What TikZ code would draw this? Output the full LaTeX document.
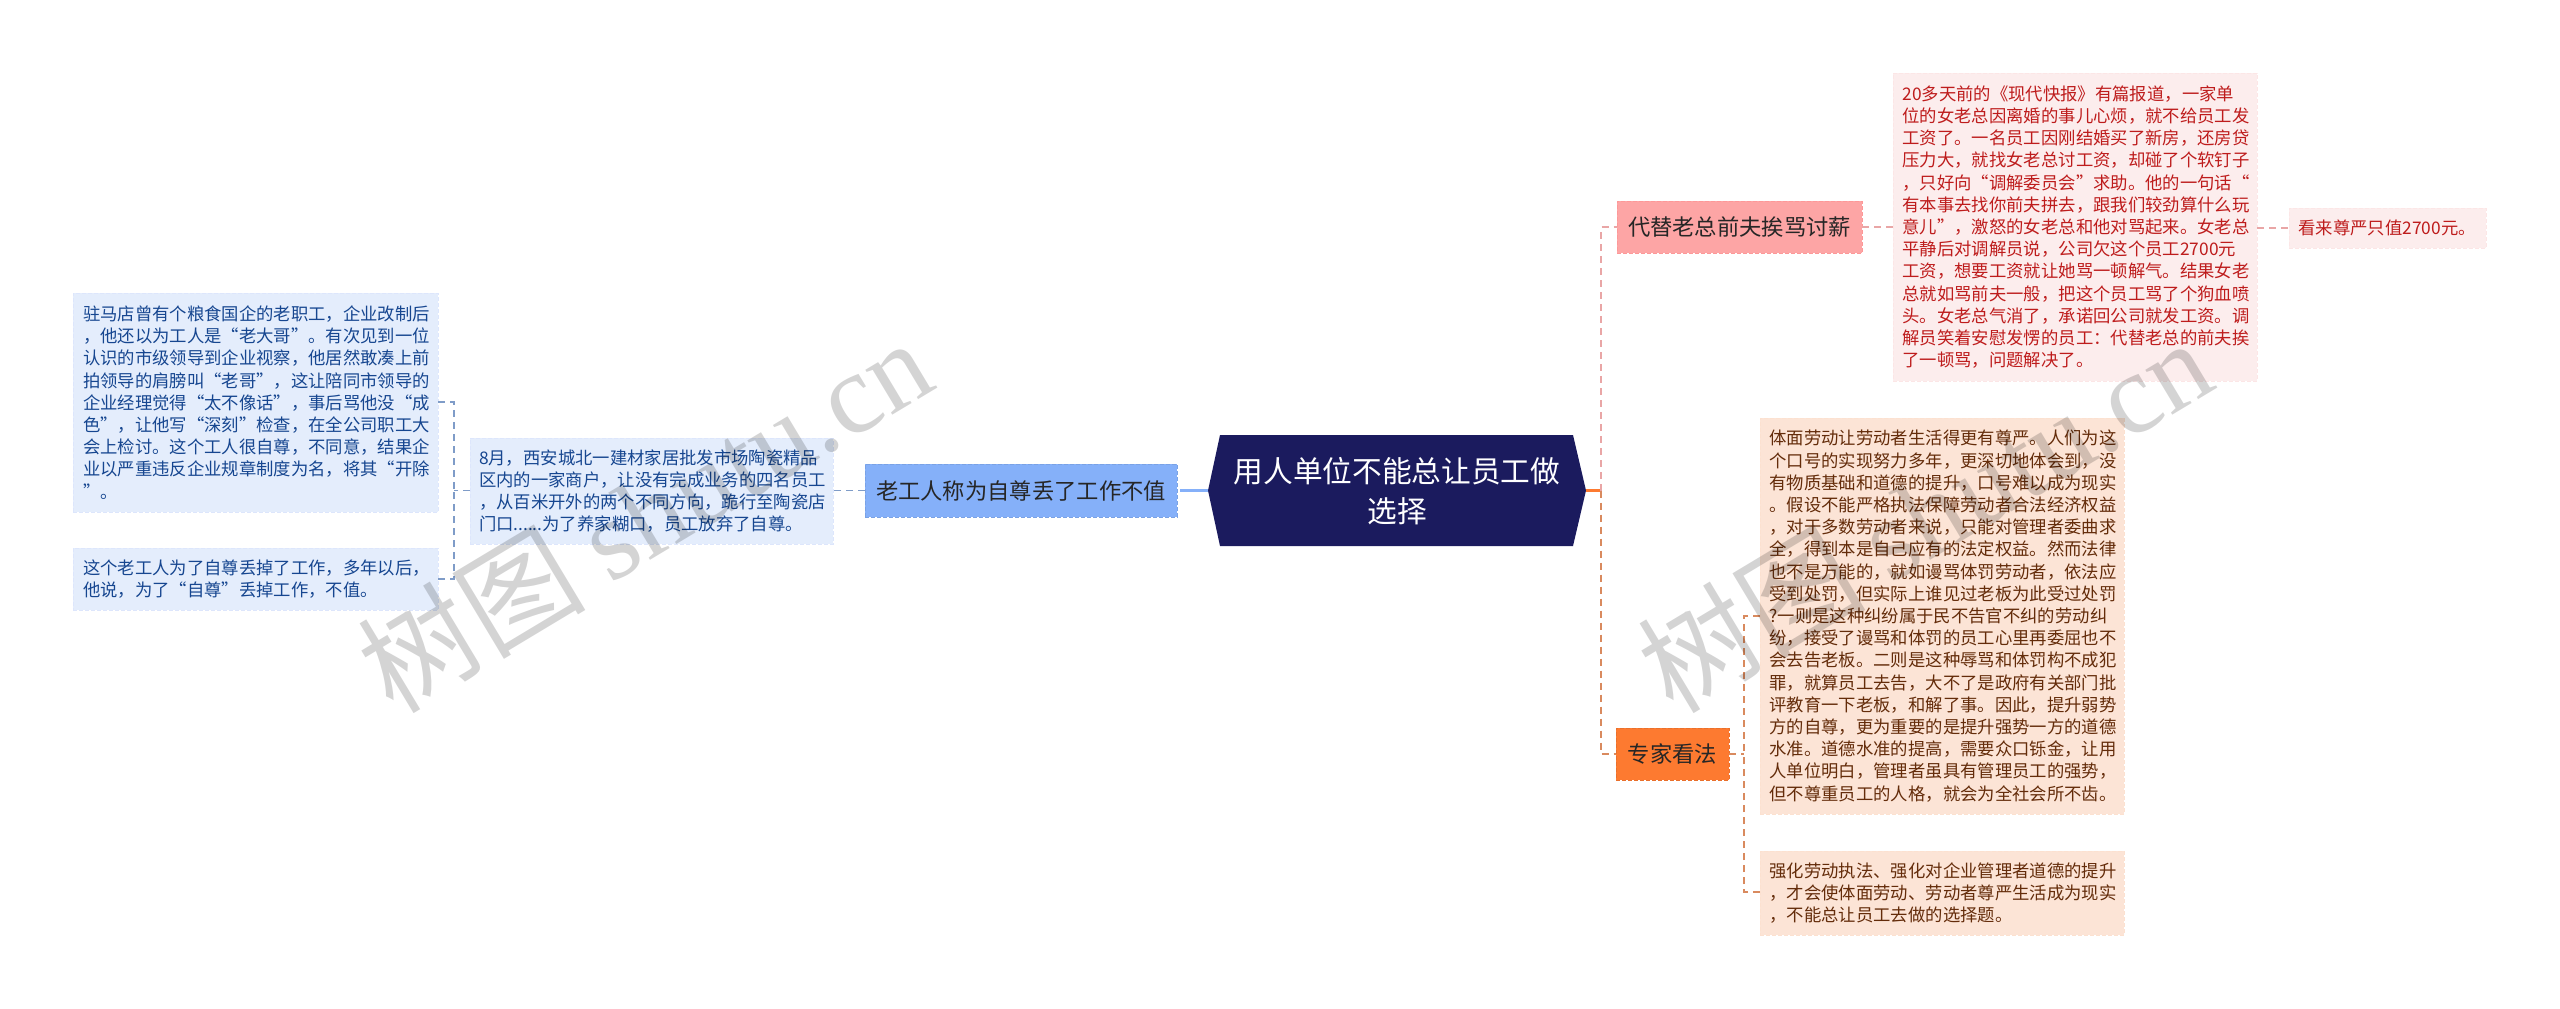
\documentclass[tikz,border=0pt]{standalone}
\usepackage{fontspec}
\setmainfont{Noto Sans CJK SC}
\newfontfamily\wmlatin{Liberation Serif}
\usetikzlibrary{calc}
\definecolor{navy}{HTML}{1B1B5E}
\definecolor{bluemain}{HTML}{85B0F9}
\definecolor{bluelight}{HTML}{E4EDFC}
\definecolor{bluetext}{HTML}{164690}
\definecolor{blueline}{HTML}{7F9CC8}
\definecolor{redmain}{HTML}{FDA5A5}
\definecolor{redlight}{HTML}{FCEDED}
\definecolor{redtext}{HTML}{BE1C1C}
\definecolor{redline}{HTML}{E9A6A6}
\definecolor{orangemain}{HTML}{FD7A30}
\definecolor{orangelight}{HTML}{FCE4D6}
\definecolor{orangetext}{HTML}{642C0A}
\definecolor{orangeline}{HTML}{D98A5E}
\tikzset{
 boxbase/.style={rectangle,inner sep=0pt,outer sep=0pt,line width=0.8pt,dash pattern=on 4pt off 2pt,align=left,anchor=north west},
 leaf/.style={boxbase,font=\fontsize{17.35pt}{22.2pt}\selectfont},
 topic/.style={boxbase,font=\fontsize{22.3pt}{30pt}\selectfont,text=black!85,anchor=center,align=center},
 bleaf/.style={leaf,fill=bluelight,draw=bluelight!97!blue,text=bluetext},
 rleaf/.style={leaf,fill=redlight,draw=redlight!97!red,text=redtext},
 oleaf/.style={leaf,fill=orangelight,draw=orangelight!97!orange,text=orangetext},
 conn/.style={line width=1.3pt,dash pattern=on 7pt off 5pt},
 trunk/.style={line width=2.6pt,dash pattern=on 7pt off 5pt},
 wm/.style={rotate=31,text=black,opacity=0.17,anchor=center,inner sep=0pt}
}
\begin{document}
\begin{tikzpicture}[x=1pt,y=-1pt]
\useasboundingbox (0,0) rectangle (2560,1009);
\coordinate (jl) at (454,490.5);
\coordinate (jr) at (1601,490.5);
\coordinate (jo) at (1744,754);
\coordinate (rootL) at (1208,490.5);
\coordinate (rootR) at (1586,490.5);
\coordinate (stub) at (1187,490.5);
% centre
\path[fill=navy] (rootL) -- (1220,435) -- (1573,435) -- (rootR) -- (1573,546) -- (1220,546) -- cycle;
\node[text=white,font=\fontsize{29.7pt}{40pt}\selectfont,align=center,inner sep=0pt] (root) at (1397,491) {用人单位不能总让员工做\\选择};
% level 1
\node[topic,fill=bluemain,draw=bluemain!92!black,minimum width=312pt,minimum height=53pt] (old) at (1021,490.5) {老工人称为自尊丢了工作不值};
\node[topic,fill=redmain,draw=redmain!92!red,minimum width=245pt,minimum height=52pt] (wife) at (1739.5,227) {代替老总前夫挨骂讨薪};
\node[topic,fill=orangemain,draw=orangemain!92!black,minimum width=113pt,minimum height=52pt] (exp) at (1672.5,754) {专家看法};
% leaves
\node[bleaf,minimum width=365pt,minimum height=219pt,text width=345pt] (a) at (73,293) {驻马店曾有个粮食国企的老职工，企业改制后\\，他还以为工人是“老大哥”。有次见到一位\\认识的市级领导到企业视察，他居然敢凑上前\\拍领导的肩膀叫“老哥”，这让陪同市领导的\\企业经理觉得“太不像话”，事后骂他没“成\\色”，让他写“深刻”检查，在全公司职工大\\会上检讨。这个工人很自尊，不同意，结果企\\业以严重违反企业规章制度为名，将其“开除\\”。};
\node[bleaf,minimum width=365pt,minimum height=62pt,text width=345pt] (b) at (73,548) {这个老工人为了自尊丢掉了工作，多年以后，\\他说，为了“自尊”丢掉工作，不值。};
\node[bleaf,minimum width=363pt,minimum height=106pt,text width=345pt] (c) at (470,438) {8月，西安城北一建材家居批发市场陶瓷精品\\区内的一家商户，让没有完成业务的四名员工\\，从百米开外的两个不同方向，跪行至陶瓷店\\门口......为了养家糊口，员工放弃了自尊。};
\node[rleaf,minimum width=364pt,minimum height=308pt,text width=345pt] (f) at (1893,73) {20多天前的《现代快报》有篇报道，一家单\\位的女老总因离婚的事儿心烦，就不给员工发\\工资了。一名员工因刚结婚买了新房，还房贷\\压力大，就找女老总讨工资，却碰了个软钉子\\，只好向“调解委员会”求助。他的一句话“\\有本事去找你前夫拼去，跟我们较劲算什么玩\\意儿”，激怒的女老总和他对骂起来。女老总\\平静后对调解员说，公司欠这个员工2700元\\工资，想要工资就让她骂一顿解气。结果女老\\总就如骂前夫一般，把这个员工骂了个狗血喷\\头。女老总气消了，承诺回公司就发工资。调\\解员笑着安慰发愣的员工：代替老总的前夫挨\\了一顿骂，问题解决了。};
\node[rleaf,minimum width=197pt,minimum height=40pt,text width=178pt] (g) at (2289,208) {看来尊严只值2700元。};
\node[oleaf,minimum width=364pt,minimum height=396pt,text width=345pt] (h) at (1760,418) {体面劳动让劳动者生活得更有尊严。人们为这\\个口号的实现努力多年，更深切地体会到，没\\有物质基础和道德的提升，口号难以成为现实\\。假设不能严格执法保障劳动者合法经济权益\\，对于多数劳动者来说，只能对管理者委曲求\\全，得到本是自己应有的法定权益。然而法律\\也不是万能的，就如谩骂体罚劳动者，依法应\\受到处罚，但实际上谁见过老板为此受过处罚\\?一则是这种纠纷属于民不告官不纠的劳动纠\\纷，接受了谩骂和体罚的员工心里再委屈也不\\会去告老板。二则是这种辱骂和体罚构不成犯\\罪，就算员工去告，大不了是政府有关部门批\\评教育一下老板，和解了事。因此，提升弱势\\方的自尊，更为重要的是提升强势一方的道德\\水准。道德水准的提高，需要众口铄金，让用\\人单位明白，管理者虽具有管理员工的强势，\\但不尊重员工的人格，就会为全社会所不齿。};
\node[oleaf,minimum width=364pt,minimum height=84pt,text width=345pt] (i) at (1760,851) {强化劳动执法、强化对企业管理者道德的提升\\，才会使体面劳动、劳动者尊严生活成为现实\\，不能总让员工去做的选择题。};
% connectors
\draw[blueline,conn] (a.east |- 0,402) -| (jl);
\draw[blueline,conn] (b.east |- 0,579) -| (jl);
\draw[blueline,conn] (c.west |- jl) -- (jl);
\draw[blueline,conn] (old.west) -- (c.east |- old.west);
\draw[bluemain,line width=2.6pt] (rootL) -- (stub);
\draw[bluemain,trunk] (stub) -- (old.east);
\draw[orangemain,line width=2.6pt] (rootR) -- (jr);
\draw[redline,trunk] (jr) |- (wife.west);
\draw[orangeline,trunk] (jr) |- (exp.west);
\draw[redline,conn] (wife.east) -- (f.west |- wife.east);
\draw[redline,conn] (f.east |- g.west) -- (g.west);
\draw[orangeline,conn] (exp.east) -- (jo);
\draw[orangeline,conn] (h.west |- 0,616) -| (jo);
\draw[orangeline,conn] (i.west |- 0,892) -| (jo);
% watermark
\node[wm] (wm1) at (644,514) {\fontsize{114pt}{114pt}\selectfont 树图\ \wmlatin shutu.cn};
\node[wm] (wm2) at (1924,514) {\fontsize{114pt}{114pt}\selectfont 树图\ \wmlatin shutu.cn};
\end{tikzpicture}
\end{document}
